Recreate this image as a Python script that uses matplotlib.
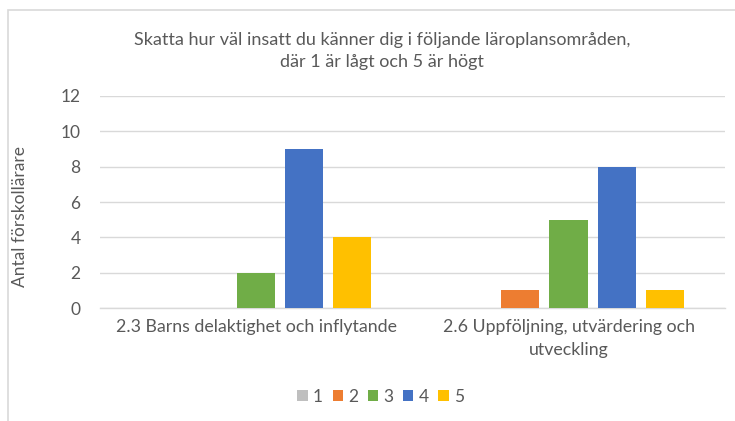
import matplotlib.pyplot as plt
import matplotlib.patches as mpatches
import numpy as np

plt.rcParams['font.family'] = ['Lato', 'DejaVu Sans']

categories = ["2.3 Barns delaktighet och inflytande",
              "2.6 Uppföljning, utvärdering och\nutveckling"]
series_names = ["1", "2", "3", "4", "5"]
values = [
    [0, 0],
    [0, 1],
    [2, 5],
    [9, 8],
    [4, 1],
]
colors = ["#BFBFBF", "#ED7D31", "#70AD47", "#4472C4", "#FFC000"]
title = "Skatta hur väl insatt du känner dig i följande läroplansområden,\ndär 1 är lågt och 5 är högt"
ylabel = "Antal förskollärare"
txt = "#595959"

fig = plt.figure(figsize=(7.35, 4.21), dpi=100)
ax = fig.add_axes([0.136, 0.268, 0.850, 0.504])

x = np.arange(len(categories))
step = 0.154
width = 0.122
for i, (name, vals) in enumerate(zip(series_names, values)):
    ax.bar(x + (i - 2) * step, vals, width, color=colors[i], label=name, zorder=3)

ax.set_xlim(-0.5, 1.5)
ax.set_ylim(0, 12)
ax.set_yticks(range(0, 13, 2))
ax.set_xticks(x)
ax.set_xticklabels(categories, fontsize=12.8, color=txt, linespacing=1.55)
ax.tick_params(axis='y', labelsize=12.5, colors=txt, length=0, pad=14)
ax.tick_params(axis='x', length=0, pad=8)
ax.yaxis.grid(True, color="#D9D9D9", linewidth=1, zorder=0)
for s in ["top", "right", "left"]:
    ax.spines[s].set_visible(False)
ax.spines["bottom"].set_color("#D9D9D9")
ax.spines["bottom"].set_linewidth(1)
ax.set_ylabel(ylabel, fontsize=12.5, color=txt)
ax.yaxis.set_label_coords(-0.115, 0.43)

fig.text(0.52, 0.879, title, ha="center", va="center", fontsize=13,
         color=txt, linespacing=1.5)

leg = fig.legend(loc="center", bbox_to_anchor=(0.518, 0.058), ncol=5, frameon=False,
                 fontsize=12.5, handlelength=0.6, handleheight=0.6,
                 handletextpad=0.3, columnspacing=0.55)
for t in leg.get_texts():
    t.set_color(txt)

border = mpatches.Rectangle((8 / 735, -0.01), 1.0, 1 - 10 / 421 + 0.01,
                            transform=fig.transFigure, fill=False,
                            edgecolor="#D9D9D9", linewidth=1.2)
fig.patches.append(border)

plt.savefig("out.png", dpi=100)
